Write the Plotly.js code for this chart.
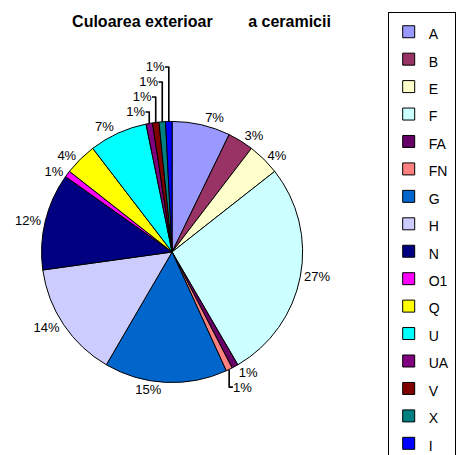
<!DOCTYPE html>
<html>
<head>
<meta charset="utf-8">
<script src="https://cdn.plot.ly/plotly-3.0.1.min.js"></script>
<style>html,body{margin:0;padding:0;background:#fff;overflow:hidden;}#chart{width:456px;height:480px;}</style>
</head>
<body>
<div id="chart"></div>
<script>
// Data (counts reconstructed so that rounded shares match the printed percentages)
var categories = ["A", "B", "E", "F", "FA", "FN", "G", "H", "N", "O1", "Q", "U", "UA", "V", "X", "I"];
var counts     = [9,   4,   5,   34,  1,    1,    19,  18,  15,  1,    5,   9,   1,    1,   1,   1];
var sliceColors = ["#9999FF", "#993366", "#FFFFCC", "#CCFFFF", "#660066", "#FF8080", "#0066CC", "#CCCCFF",
                   "#000080", "#FF00FF", "#FFFF00", "#00FFFF", "#800080", "#800000", "#008080", "#0000FF"];
var chartTitle = "Culoarea exterioar" + "\u00a0".repeat(8) + "a ceramicii";

// layout is taller than the 455px window so the legend runs off the bottom like the reference
var W = 456, H = 480;
var cx = 174, cy = 252, r = 132;

var legendLabels = categories.map(function (c) { return '<span style="font-size:14px">' + c + '</span>'; });

var trace = {
  type: 'pie',
  labels: legendLabels,
  values: counts,
  sort: false,
  direction: 'clockwise',
  rotation: 0,
  marker: { colors: sliceColors, line: { color: '#000000', width: 1 } },
  textinfo: 'percent',
  texttemplate: '%{percent:.0%}',
  textposition: 'outside',
  outsidetextfont: { family: 'Liberation Sans, Arial, sans-serif', size: 13, color: '#000000' },
  hoverinfo: 'label+value+percent',
  domain: { x: [(cx - r) / W, (cx + r) / W], y: [(H - cy - r) / H, (H - cy + r) / H] }
};

var layout = {
  width: W, height: H,
  margin: { l: 0, r: 0, t: 0, b: 0 },
  paper_bgcolor: '#ffffff',
  plot_bgcolor: '#ffffff',
  font: { family: 'Liberation Sans, Arial, sans-serif', color: '#000000' },
  title: {
    text: '<b>' + chartTitle + '</b>',
    font: { family: 'Liberation Sans, Arial, sans-serif', size: 16, color: '#000000' },
    x: 201.5 / W, xanchor: 'center', xref: 'container',
    y: 1 - 21 / H, yanchor: 'middle', yref: 'container'
  },
  showlegend: true,
  legend: {
    x: 392 / W, xanchor: 'left',
    y: 1 - 12 / H, yanchor: 'top',
    bordercolor: '#000000', borderwidth: 1,
    bgcolor: '#ffffff',
    font: { family: 'Liberation Sans, Arial, sans-serif', size: 18.8, color: '#000000' },
    traceorder: 'normal'
  }
};

Plotly.newPlot('chart', [trace], layout, { staticPlot: true, displayModeBar: false });
</script>
</body>
</html>
